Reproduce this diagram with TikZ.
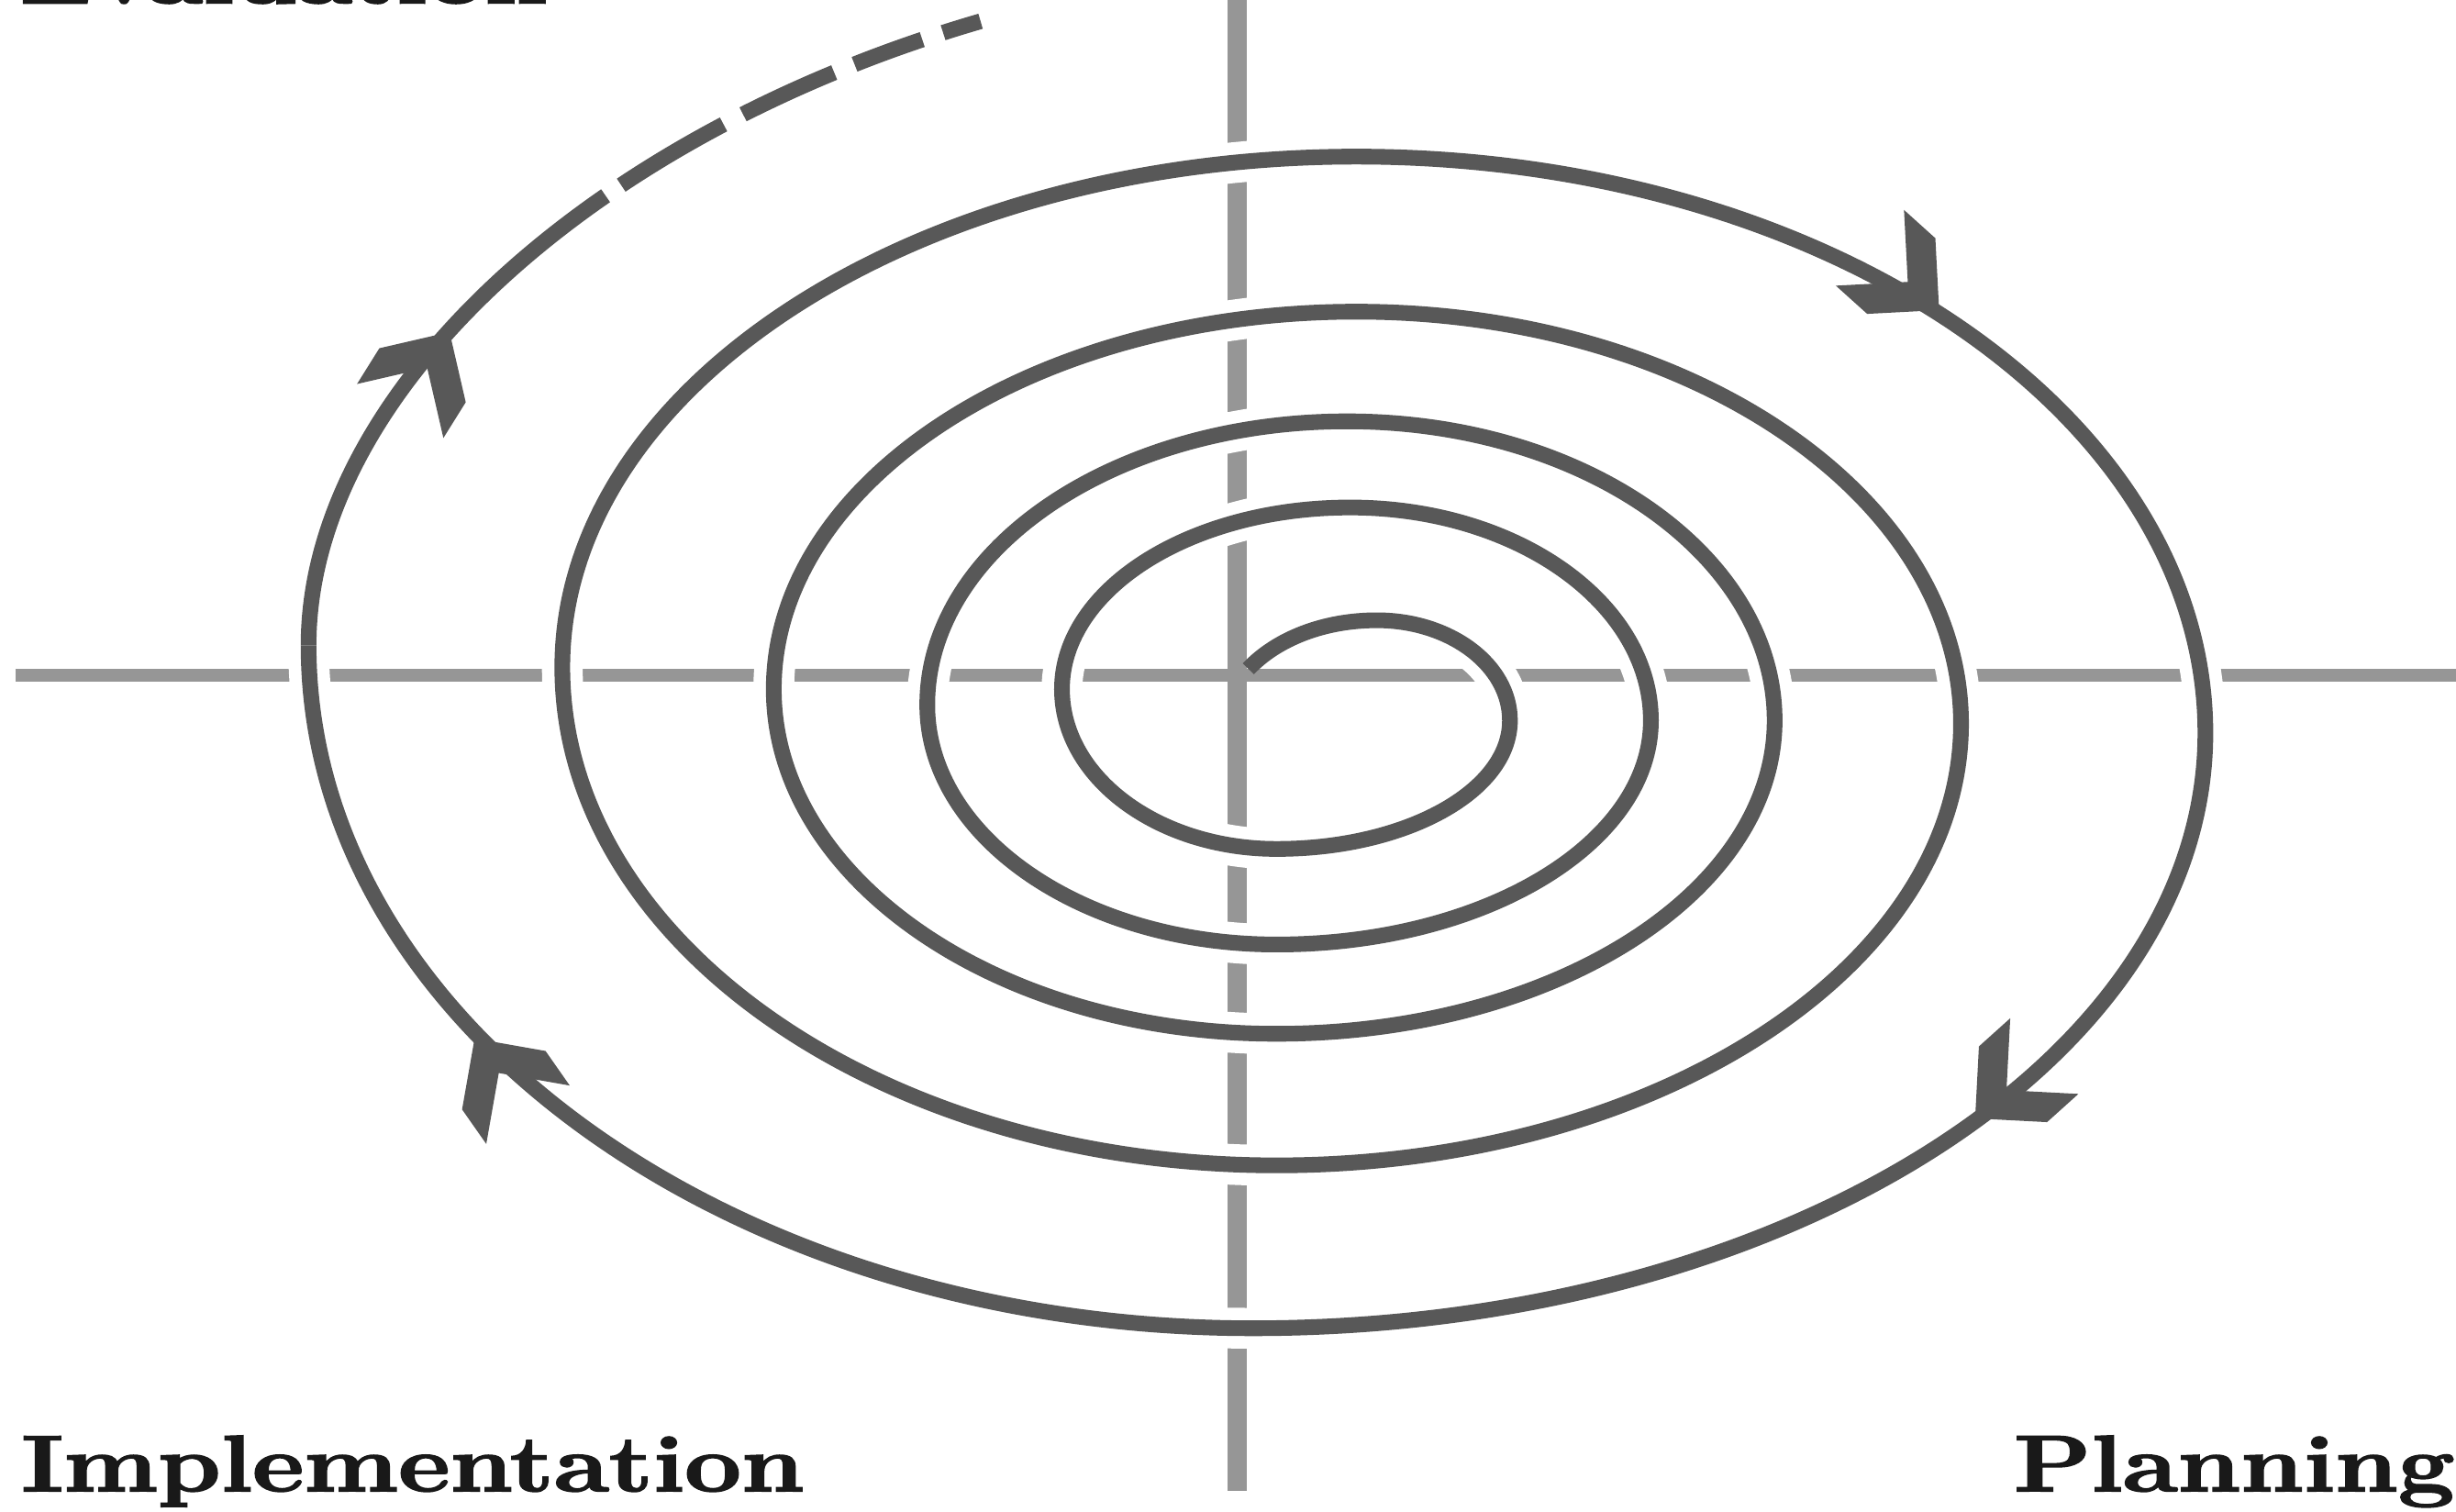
\documentclass[tikz,border=0pt]{standalone}
\usepackage{graphicx}
\usepackage{fontspec}
\newfontfamily\labelfont[BoldFeatures={FakeBold=2}]{Latin Modern Roman}
\usetikzlibrary{calc}
\definecolor{spiralgray}{RGB}{88,88,88}
\definecolor{axisgray}{RGB}{150,150,150}
\definecolor{labelblack}{RGB}{25,25,25}
\def\kk{0.5523}
% quarter-ellipse segments: start tangent horizontal (qh) or vertical (qv)
\newcommand\qh[2]{.. controls ($(#1)!\kk!(#2|-#1)$) and ($(#2)!\kk!(#2|-#1)$) .. (#2)}
\newcommand\qv[2]{.. controls ($(#1)!\kk!(#1|-#2)$) and ($(#2)!\kk!(#1|-#2)$) .. (#2)}
\tikzset{
  spiral/.style={draw=spiralgray, line width=0.1cm, line cap=butt},
  halostroke/.style={draw=white, line width=0.26cm},
  haxis/.style={draw=axisgray, line width=0.085cm},
  vaxis/.style={draw=axisgray, line width=0.12cm},
  chev/.pic={\fill[spiralgray] (0cm,0cm) -- (-0.325cm,0.325cm) -- (-0.594cm,0.325cm) -- (-0.269cm,0cm) -- (-0.594cm,-0.325cm) -- (-0.325cm,-0.325cm) -- cycle;},
  phase/.style={font=\labelfont\fontsize{14.5}{16}\selectfont\bfseries, text=labelblack, inner sep=0pt, anchor=base west}
}
\begin{document}
\begin{tikzpicture}[x=0.01cm,y=-0.01cm]
\useasboundingbox (0,0) rectangle (1568,965);
% axes
\coordinate (hL) at (10,431);
\coordinate (hR) at (1568,431);
\coordinate (vT) at (790,0);
\coordinate (vB) at (790,952);
\draw[haxis] (hL) -- (hR);
\draw[vaxis] (vT) -- (vB);
% spiral extremes (top, right, bottom, left of each turn)
\coordinate (S) at (797,427);
\coordinate (T1) at (879,396);
\coordinate (R1) at (964,460);
\coordinate (B1) at (815,542);
\coordinate (L1) at (678,440);
\coordinate (T2) at (862,324);
\coordinate (R2) at (1054,460);
\coordinate (B2) at (815,603);
\coordinate (L2) at (592,450);
\coordinate (T3) at (860,269);
\coordinate (R3) at (1133,460);
\coordinate (B3) at (815,660);
\coordinate (L3) at (494,440);
\coordinate (T4) at (866,199);
\coordinate (R4) at (1252,462);
\coordinate (B4) at (815,744);
\coordinate (L4) at (359,426);
\coordinate (T5) at (866,100);
\coordinate (R5) at (1408,468);
\coordinate (B5) at (800,848);
\coordinate (L5) at (197,412);
\coordinate (TE) at (900,-25);
% white halo cutting the axes
\draw[halostroke] (T1) \qh{T1}{R1} \qv{R1}{B1} \qh{B1}{L1} \qv{L1}{T2}
  \qh{T2}{R2} \qv{R2}{B2} \qh{B2}{L2} \qv{L2}{T3}
  \qh{T3}{R3} \qv{R3}{B3} \qh{B3}{L3} \qv{L3}{T4}
  \qh{T4}{R4} \qv{R4}{B4} \qh{B4}{L4} \qv{L4}{T5}
  \qh{T5}{R5} \qv{R5}{B5} \qh{B5}{L5};
% spiral
\draw[spiral] (S) .. controls (815,408) and (845,396) .. (T1)
  \qh{T1}{R1} \qv{R1}{B1} \qh{B1}{L1} \qv{L1}{T2}
  \qh{T2}{R2} \qv{R2}{B2} \qh{B2}{L2} \qv{L2}{T3}
  \qh{T3}{R3} \qv{R3}{B3} \qh{B3}{L3} \qv{L3}{T4}
  \qh{T4}{R4} \qv{R4}{B4} \qh{B4}{L4} \qv{L4}{T5}
  \qh{T5}{R5} \qv{R5}{B5} \qh{B5}{L5};
% outer tail, solid then dashed
\draw[spiral, dash pattern=on 3.57cm off 0.12cm on 0.76cm off 0.14cm on 0.64cm off 0.14cm on 0.46cm off 0.14cm on 0.25cm off 20cm]
  (L5) .. controls (197,200) and (512,-25) .. (TE);
% arrowheads
\coordinate (A1) at (1238,198);
\coordinate (A2) at (1261,714);
\coordinate (A3) at (303,663);
\coordinate (A4) at (287,212);
\pic[rotate=-42] at (A1) {chev};
\pic[rotate=-138] at (A2) {chev};
\pic[rotate=125] at (A3) {chev};
\pic[rotate=58] at (A4) {chev};
% labels
\node[phase] (eval) at (12,2) {\scalebox{1.26}[1]{Evaluation}};
\node[phase] (impl) at (13,952) {\scalebox{1.26}[1]{Implementation}};
\node[phase] (plan) at (1285,952) {\scalebox{1.26}[1]{Planning}};
\end{tikzpicture}
\end{document}
